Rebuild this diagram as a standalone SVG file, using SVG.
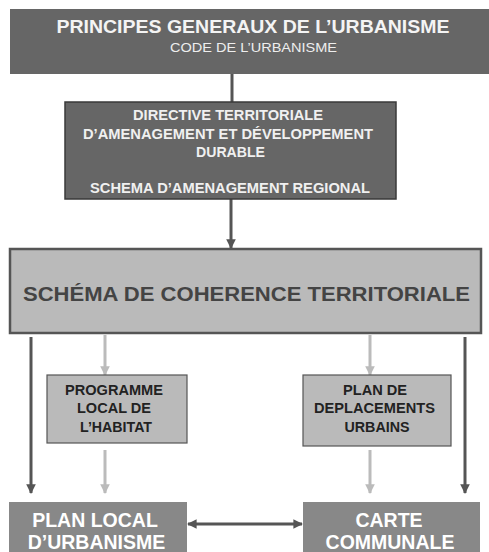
<svg xmlns="http://www.w3.org/2000/svg" width="489" height="552" viewBox="0 0 489 552">
<style>
text{font-family:"Liberation Sans",Arial,sans-serif;font-weight:bold;text-anchor:middle}
.dk{stroke:#555;stroke-width:3;fill:none}
.lt{stroke:#bbb;stroke-width:3;fill:none}
</style>
<defs>
<marker id="ad" viewBox="0 0 10 10" refX="9" refY="5" markerWidth="3.2" markerHeight="3.2" orient="auto-start-reverse" markerUnits="strokeWidth"><path d="M0,0L10,5L0,10z" fill="#555"/></marker>
<marker id="al" viewBox="0 0 10 10" refX="9" refY="5" markerWidth="3.2" markerHeight="3.2" orient="auto" markerUnits="strokeWidth"><path d="M0,0L10,5L0,10z" fill="#bbb"/></marker>
</defs>
<rect width="489" height="552" fill="#fff"/>
<g id="connectors">
<line class="dk" x1="232" y1="74" x2="232" y2="102"/>
<line class="dk" x1="231" y1="199" x2="231" y2="248" marker-end="url(#ad)"/>
<line class="dk" x1="31" y1="337" x2="31" y2="493" marker-end="url(#ad)"/>
<line class="dk" x1="465" y1="337" x2="465" y2="493" marker-end="url(#ad)"/>
<line class="lt" x1="105" y1="335" x2="105" y2="375" marker-end="url(#al)"/>
<line class="lt" x1="105" y1="450" x2="105" y2="493" marker-end="url(#al)"/>
<line class="lt" x1="370" y1="335" x2="370" y2="375" marker-end="url(#al)"/>
<line class="lt" x1="370" y1="450" x2="370" y2="493" marker-end="url(#al)"/>
<line class="dk" x1="188" y1="524" x2="302" y2="524" marker-start="url(#ad)" marker-end="url(#ad)"/>
</g>
<g id="principes">
<rect x="10" y="9" width="479" height="65" fill="#666"/>
<text x="253" y="33" font-size="18" fill="#f4f4f4" textLength="393" lengthAdjust="spacingAndGlyphs">PRINCIPES GENERAUX DE L’URBANISME</text>
<text x="253.5" y="52" font-size="13.5" fill="#eee" style="font-weight:normal" textLength="167" lengthAdjust="spacingAndGlyphs">CODE DE L’URBANISME</text>
</g>
<g id="dtadd">
<rect x="65" y="102" width="331" height="97" fill="#666" stroke="#3a3a3a" stroke-width="1.5"/>
<g font-size="14.5" fill="#f0f0f0">
<text x="228" y="120" textLength="190" lengthAdjust="spacingAndGlyphs">DIRECTIVE TERRITORIALE</text>
<text x="228" y="139" textLength="290" lengthAdjust="spacingAndGlyphs">D’AMENAGEMENT ET DÉVELOPPEMENT</text>
<text x="230.5" y="157" textLength="69" lengthAdjust="spacingAndGlyphs">DURABLE</text>
<text x="230" y="193" textLength="280" lengthAdjust="spacingAndGlyphs">SCHEMA D’AMENAGEMENT REGIONAL</text>
</g>
</g>
<g id="scot">
<rect x="10" y="249" width="471" height="84" fill="#bababa" stroke="#555" stroke-width="2.5"/>
<text x="246.5" y="301" font-size="21" fill="#444" textLength="447" lengthAdjust="spacingAndGlyphs">SCHÉMA DE COHERENCE TERRITORIALE</text>
</g>
<g id="plh">
<rect x="47" y="375" width="140" height="68" fill="#bababa" stroke="#555" stroke-width="1.2"/>
<g font-size="14.5" fill="#222">
<text x="114" y="395" textLength="98" lengthAdjust="spacingAndGlyphs">PROGRAMME</text>
<text x="114" y="413" textLength="74" lengthAdjust="spacingAndGlyphs">LOCAL DE</text>
<text x="116" y="432" textLength="72" lengthAdjust="spacingAndGlyphs">L’HABITAT</text>
</g>
</g>
<g id="pdu">
<rect x="303" y="375" width="148" height="71" fill="#bababa" stroke="#555" stroke-width="1.2"/>
<g font-size="14.5" fill="#222">
<text x="375" y="395" textLength="64" lengthAdjust="spacingAndGlyphs">PLAN DE</text>
<text x="374.5" y="413" textLength="121" lengthAdjust="spacingAndGlyphs">DEPLACEMENTS</text>
<text x="377" y="432" textLength="65" lengthAdjust="spacingAndGlyphs">URBAINS</text>
</g>
</g>
<g id="plu">
<rect x="9" y="502" width="178" height="55" fill="#888"/>
<g font-size="19.5" fill="#fff">
<text x="95" y="527">PLAN LOCAL</text>
<text x="96.5" y="549">D’URBANISME</text>
</g>
</g>
<g id="carte">
<rect x="303" y="502" width="177" height="55" fill="#888"/>
<g font-size="19.5" fill="#fff">
<text x="389" y="527">CARTE</text>
<text x="390" y="549">COMMUNALE</text>
</g>
</g>
</svg>
